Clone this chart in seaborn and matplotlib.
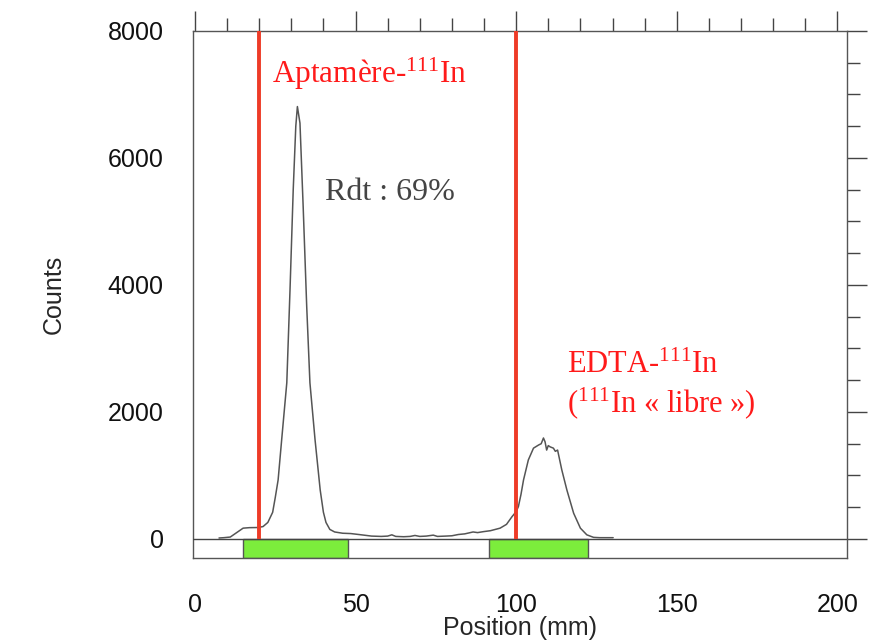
import matplotlib
matplotlib.use("Agg")
import matplotlib.pyplot as plt
import seaborn as sns
import pandas as pd
from matplotlib.ticker import MultipleLocator

# ---- data ----
position_mm = [7.5, 9, 11, 13, 15, 17, 19.6, 21.2, 22.7, 24.2, 25.0, 25.9, 27.0, 28.6, 29.6,
               30.6, 31.4, 31.9, 32.7, 33.7, 34.8, 35.8, 37.4, 39.0, 40.0, 40.8, 42.0, 43.5,
               46, 48.5, 51, 55, 58, 60, 61.3, 62.5, 65, 67, 68.5, 70, 72, 74.2, 75.5, 78,
               80, 82, 84, 86.6, 88, 89.8, 92, 95, 97, 98.7, 100, 100.7, 101.5, 102.3, 103.8,
               105.4, 107.0, 107.8, 108.5, 109.0, 109.5, 110.0, 110.6, 111.6, 112.2, 112.9,
               114.2, 115.8, 117.9, 120.0, 122.0, 124.1, 126, 128, 130.2]
counts = [15, 20, 30, 100, 170, 178, 180, 195, 260, 420, 650, 930, 1560, 2460, 3920,
          5500, 6500, 6810, 6550, 5230, 3660, 2460, 1560, 770, 420, 260, 150, 110,
          90, 85, 70, 45, 40, 45, 65, 40, 35, 40, 55, 40, 45, 60, 40, 45,
          50, 70, 80, 110, 100, 115, 130, 170, 230, 350, 430, 510, 700, 930, 1245,
          1430, 1480, 1500, 1590, 1530, 1400, 1470, 1450, 1430, 1380, 1400,
          1090, 770, 405, 170, 65, 25, 20, 20, 20]

region_start = [15.0, 91.6]
region_end = [47.7, 122.4]
marker_positions = [20, 100]

x_ticks = [0, 50, 100, 150, 200]
y_ticks = [0, 2000, 4000, 6000, 8000]

df = pd.DataFrame({"Position (mm)": position_mm, "Counts": counts})

# ---- style ----
sns.set_theme(style="white")
plt.rcParams["font.family"] = ["Liberation Sans", "DejaVu Sans"]
plt.rcParams["mathtext.fontset"] = "custom"
plt.rcParams["mathtext.rm"] = "Liberation Serif"
plt.rcParams["mathtext.it"] = "Liberation Serif:italic"

fig = plt.figure(figsize=(8.78, 6.41), dpi=100)
ax = fig.add_axes([193 / 878, (641 - 558) / 641, (847 - 193) / 878, (558 - 31) / 641])

ax.set_xlim(-0.6, 203)
ax.set_ylim(-300, 8000)

# green integration regions
widths = [e - s for s, e in zip(region_start, region_end)]
ax.bar(region_start, [300] * len(region_start), width=widths, bottom=-300,
       align="edge", color="#7ced3c", edgecolor="#555555", linewidth=1.0, zorder=2)

ax.axhline(0, color="#444444", lw=1.0, zorder=3)

sns.lineplot(data=df, x="Position (mm)", y="Counts", ax=ax, color="#555555",
             linewidth=1.1, zorder=4, estimator=None, sort=False)

ax.vlines(marker_positions, 0, 8000, color="#ee3b27", lw=2.8, zorder=5)

# annotations
serif = ["Liberation Serif", "DejaVu Serif"]
ax.text(24.0, 7180, r"Aptamère-$^{\mathrm{111}}$In", color="#ff1a1a", fontsize=22.5,
        family=serif, va="baseline", ha="left", zorder=6)
ax.text(40.5, 5340, "Rdt : 69%", color="#444444", fontsize=23,
        family=serif, va="baseline", ha="left", zorder=6)
ax.text(115.9, 2615, r"EDTA-$^{\mathrm{111}}$In", color="#ff1a1a", fontsize=22,
        family=serif, va="baseline", ha="left", zorder=6)
ax.text(115.9, 2000, r"($^{\mathrm{111}}$In « libre »)", color="#ff1a1a", fontsize=22,
        family=serif, va="baseline", ha="left", zorder=6)

# axes styling
for s in ax.spines.values():
    s.set_color("#555555")
    s.set_linewidth(1.0)

ax.set_xticks(x_ticks)
ax.set_yticks(y_ticks)
ax.xaxis.set_minor_locator(MultipleLocator(10))
ax.yaxis.set_minor_locator(MultipleLocator(500))
ax.tick_params(which="both", direction="out", top=True, right=True,
               labeltop=False, labelright=False, colors="#444444", labelcolor="#111111")
ax.tick_params(which="major", length=14.5, width=1.0, labelsize=18)
ax.tick_params(which="minor", length=9.5, width=1.0)
ax.tick_params(axis="x", which="major", pad=11)
ax.tick_params(axis="y", which="major", pad=6.5)

ax.set_xlabel("Position (mm)", fontsize=18, labelpad=-1)
ax.set_ylabel("Counts", fontsize=18, labelpad=30)

fig.savefig("out.png", dpi=100)
